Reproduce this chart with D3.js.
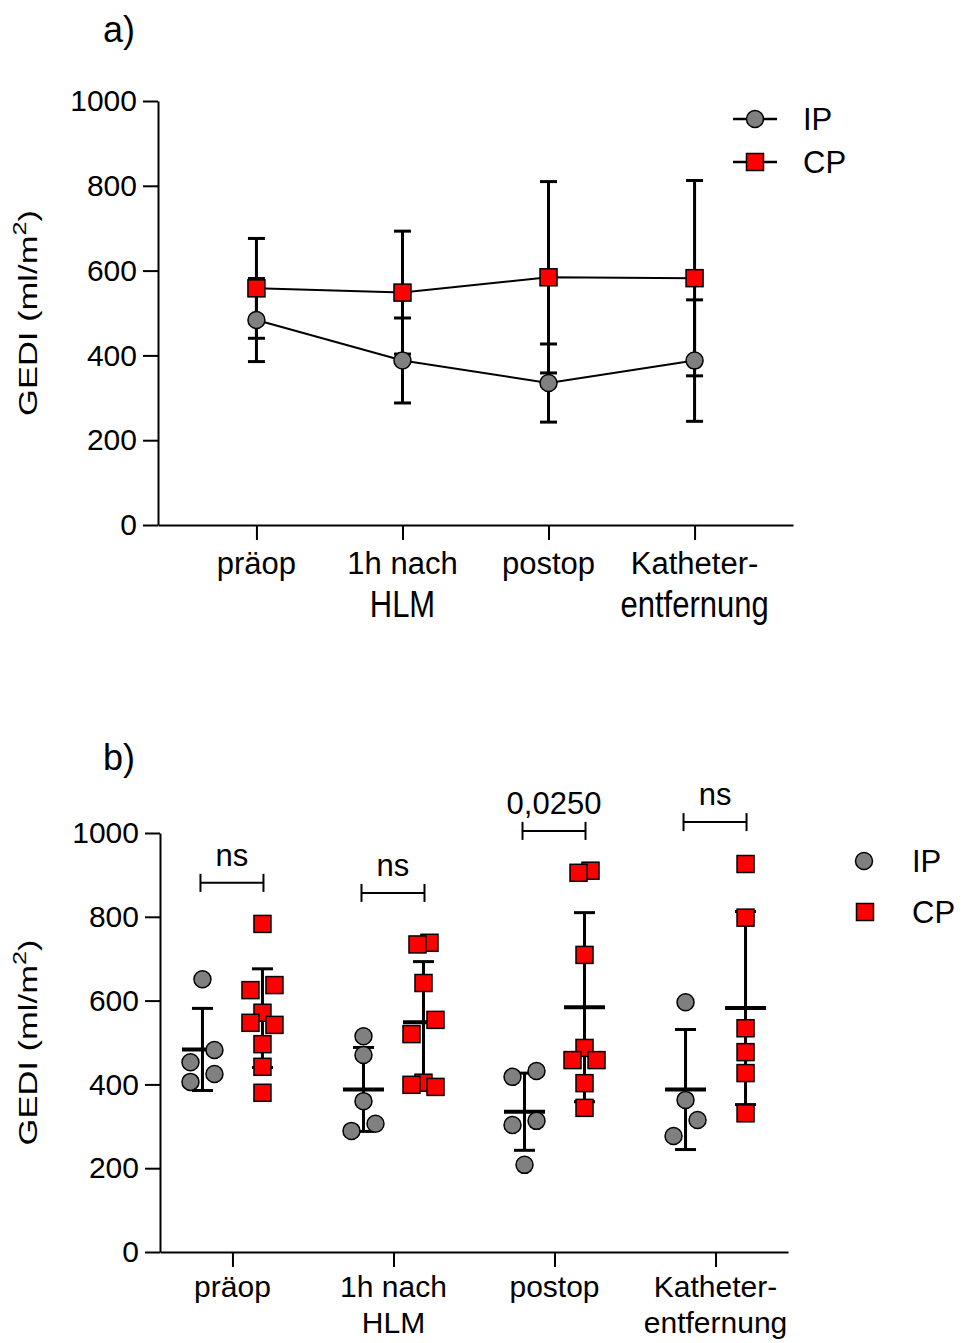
<!DOCTYPE html>
<html>
<head>
<meta charset="utf-8">
<script src="https://cdn.jsdelivr.net/npm/d3@7"></script>
<style>
  body { margin: 0; background: #fff; }
  svg { display: block; font-family: "Liberation Sans", Arial, sans-serif; }
</style>
</head>
<body>
<div id="chart"></div>
<script>
/* DATA */
const categories = ["präop", "1h nach HLM", "postop", "Katheter-entfernung"];
const categoryLines = [["präop"], ["1h nach", "HLM"], ["postop"], ["Katheter-", "entfernung"]];
const groups = ["IP", "CP"];
// individual GEDI values (ml/m2) per time point
const ipValues = [
  [651, 482, 453, 425, 406],
  [515, 470, 360, 306, 289],
  [432, 418, 313, 303, 208],
  [596, 363, 315, 277]
];
const cpValues = [
  [783, 637, 625, 571, 547, 542, 496, 442, 380],
  [738, 734, 642, 554, 520, 404, 399, 394],
  [910, 905, 709, 487, 458, 458, 403, 344],
  [926, 798, 534, 477, 427, 331]
];
const pLabels = ["ns", "ns", "0,0250", "ns"];
const bracketLevels = [881, 857, 1005, 1026];
const yTicks = [0, 200, 400, 600, 800, 1000];

/* CONSTANTS */
const width = 963, height = 1343;
const colors = { IP: "#808080", CP: "#ff0000" };
const markerSize = 17;

const svg = d3.select("#chart").append("svg")
  .attr("width", width)
  .attr("height", height);

// summary stats (mean +/- SD) per group and time point
const stats = groups.map(g => {
  const vals = g === "IP" ? ipValues : cpValues;
  return {
    group: g,
    points: categories.map((c, i) => ({
      cat: c,
      mean: d3.mean(vals[i]),
      sd: d3.deviation(vals[i])
    }))
  };
});

function marker(sel, group) {
  if (group === "IP") {
    sel.append("circle").attr("r", markerSize / 2);
  } else {
    sel.append("rect")
      .attr("x", -markerSize / 2).attr("y", -markerSize / 2)
      .attr("width", markerSize).attr("height", markerSize);
  }
  sel.attr("fill", colors[group]).attr("stroke", "#000").attr("stroke-width", 1.5);
}

// lab = { line1, line2, stretch, size } : placement of the category labels
function drawAxes(g, x, y, axisY, axisX, lab) {
  const yAxis = d3.axisLeft(y).tickValues(yTicks).tickFormat(d3.format("d"))
    .tickSize(15).tickSizeOuter(0).tickPadding(6);
  const xAxis = d3.axisBottom(x).tickSize(15).tickSizeOuter(0).tickFormat("");

  const yg = g.append("g").attr("transform", `translate(${axisX},0)`).call(yAxis);
  yg.selectAll("text").attr("font-size", 30).attr("font-family", null).attr("fill", "#000");
  g.append("g").attr("transform", `translate(0,${axisY})`).call(xAxis);
  g.selectAll(".domain, .tick line").attr("stroke", "#000").attr("stroke-width", 2);

  categoryLines.forEach((lines, i) => {
    const cx = x(categories[i]);
    g.append("text")
      .attr("x", cx).attr("y", axisY + lab.line1)
      .attr("text-anchor", "middle").attr("font-size", lab.size)
      .text(lines[0]);
    if (lines[1]) {
      g.append("text")
        .attr("transform", `translate(${cx},${axisY + lab.line2}) scale(1,${lab.stretch})`)
        .attr("text-anchor", "middle").attr("font-size", lab.size)
        .text(lines[1]);
    }
  });

  // y axis title
  const midY = (y.range()[0] + y.range()[1]) / 2;
  const t = g.append("text")
    .attr("transform", `translate(37,${midY}) rotate(-90)`)
    .attr("text-anchor", "middle")
    .attr("font-size", 26)
    .attr("textLength", 206)
    .attr("lengthAdjust", "spacingAndGlyphs");
  t.append("tspan").text("GEDI (ml/m");
  t.append("tspan").attr("font-size", 19).attr("dy", -11).text("2");
  t.append("tspan").attr("dy", 11).text(")");
}

/* PANEL A */
const ga = svg.append("g");
const xa = d3.scalePoint().domain(categories).range([158, 793]).padding(0.674);
const ya = d3.scaleLinear().domain([0, 1000]).range([525, 101]);

ga.append("text").attr("x", 103).attr("y", 42).attr("font-size", 36).text("a)");
drawAxes(ga, xa, ya, 525, 158, { line1: 49, line2: 92, stretch: 1.18, size: 31 });

// error bars
stats.forEach(s => {
  const eb = ga.append("g").selectAll("g").data(s.points).join("g")
    .attr("stroke", "#000").attr("stroke-width", 3);
  eb.append("line")
    .attr("x1", d => xa(d.cat)).attr("x2", d => xa(d.cat))
    .attr("y1", d => ya(d.mean - d.sd)).attr("y2", d => ya(d.mean + d.sd));
  [-1, 1].forEach(k => {
    eb.append("line")
      .attr("x1", d => xa(d.cat) - 8.5).attr("x2", d => xa(d.cat) + 8.5)
      .attr("y1", d => ya(d.mean + k * d.sd)).attr("y2", d => ya(d.mean + k * d.sd));
  });
});

// connecting lines
const line = d3.line().x(d => xa(d.cat)).y(d => ya(d.mean));
stats.forEach(s => {
  ga.append("path").attr("d", line(s.points))
    .attr("fill", "none").attr("stroke", "#000").attr("stroke-width", 2);
});

// markers
stats.forEach(s => {
  ga.append("g").selectAll("g").data(s.points).join("g")
    .attr("transform", d => `translate(${xa(d.cat)},${ya(d.mean)})`)
    .each(function() { marker(d3.select(this), s.group); });
});

// legend a
groups.forEach((g, i) => {
  const ly = 119 + i * 43;
  ga.append("line").attr("x1", 733).attr("x2", 777).attr("y1", ly).attr("y2", ly)
    .attr("stroke", "#000").attr("stroke-width", 2.5);
  ga.append("g").attr("transform", `translate(755,${ly})`).call(sel => marker(sel, g));
  ga.append("text").attr("x", 803).attr("y", ly + 11).attr("font-size", 31).text(g);
});

/* PANEL B */
const gb = svg.append("g");
const xb = d3.scalePoint().domain(categories).range([160, 788]).padding(0.45);
const off = d3.scalePoint().domain(groups).range([-30, 30]);
const yb = d3.scaleLinear().domain([0, 1000]).range([1252, 833]);

gb.append("text").attr("x", 103).attr("y", 770).attr("font-size", 36).text("b)");
// labels squeezed a little so the second line stays inside the bottom edge
drawAxes(gb, xb, yb, 1252, 160, { line1: 45, line2: 81, stretch: 1, size: 30 });

// spread points with similar values sideways (Prism-like scatter)
function spread(vals, cx, group) {
  const pts = vals.map(v => ({ v, x: cx, y: yb(v) })).sort((a, b) => a.y - b.y);
  const clusters = [];
  pts.forEach(p => {
    const last = clusters[clusters.length - 1];
    if (last && p.y - last[0].y < markerSize) last.push(p);
    else clusters.push([p]);
  });
  clusters.forEach(c => {
    if (c.length < 2) return;
    if (c.length === 3) {
      // top point stays in the middle, the other two go to the sides
      c[0].x = cx; c[1].x = cx - 12; c[2].x = cx + 12;
      return;
    }
    const half = group === "CP" && c.length === 2 && Math.abs(c[0].y - c[1].y) < 4 ? 6 : 12;
    c.sort((a, b) => a.v - b.v);
    c.forEach((p, i) => { p.x = cx - half + 2 * half * i / (c.length - 1); });
  });
  return pts;
}

stats.forEach(s => {
  const vals = s.group === "IP" ? ipValues : cpValues;
  s.points.forEach((d, i) => {
    const cx = xb(d.cat) + off(s.group);
    // SD + mean bars
    const eb = gb.append("g").attr("stroke", "#000");
    eb.append("line").attr("x1", cx).attr("x2", cx)
      .attr("y1", yb(d.mean - d.sd)).attr("y2", yb(d.mean + d.sd)).attr("stroke-width", 3);
    [-1, 1].forEach(k => {
      eb.append("line").attr("x1", cx - 10.5).attr("x2", cx + 10.5)
        .attr("y1", yb(d.mean + k * d.sd)).attr("y2", yb(d.mean + k * d.sd)).attr("stroke-width", 3);
    });
    eb.append("line").attr("x1", cx - 20.5).attr("x2", cx + 20.5)
      .attr("y1", yb(d.mean)).attr("y2", yb(d.mean)).attr("stroke-width", 4);
    // individual points
    gb.append("g").selectAll("g").data(spread(vals[i], cx, s.group)).join("g")
      .attr("transform", p => `translate(${p.x},${p.y})`)
      .each(function() { marker(d3.select(this), s.group); });
  });
});

// significance brackets
categories.forEach((c, i) => {
  const by = yb(bracketLevels[i]);
  const x1 = xb(c) + off("IP") - 2, x2 = xb(c) + off("CP") + 1;
  const bg = gb.append("g").attr("stroke", "#000").attr("stroke-width", 2);
  bg.append("line").attr("x1", x1).attr("x2", x2).attr("y1", by).attr("y2", by);
  [x1, x2].forEach(xx => bg.append("line").attr("x1", xx).attr("x2", xx).attr("y1", by - 9).attr("y2", by + 9));
  gb.append("text").attr("x", (x1 + x2) / 2).attr("y", by - 17)
    .attr("text-anchor", "middle").attr("font-size", 31).text(pLabels[i]);
});

// legend b
groups.forEach((g, i) => {
  const ly = 861 + i * 51;
  gb.append("g").attr("transform", `translate(${864 + i},${ly})`).call(sel => marker(sel, g));
  gb.append("text").attr("x", 912).attr("y", ly + 11).attr("font-size", 31).text(g);
});
</script>
</body>
</html>
